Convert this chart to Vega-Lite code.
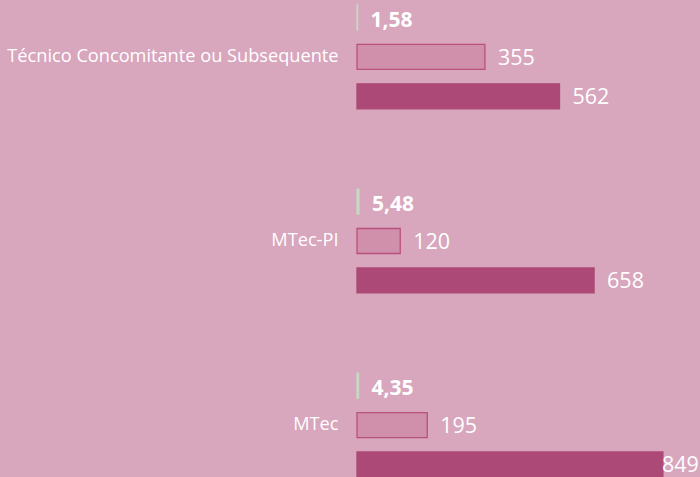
{
  "$schema": "https://vega.github.io/schema/vega-lite/v6.json",
  "width": 343,
  "height": 477,
  "autosize": {"type": "none"},
  "padding": {"left": 357, "top": 0, "right": 0, "bottom": 0},
  "background": "#d8a6bd",
  "config": {"view": {"stroke": null}, "font": "Open Sans"},
  "data": {
    "values": [
      {"category": "Técnico Concomitante ou Subsequente", "series": "Candidatos por vaga", "value": 1.58, "label": "1,58"},
      {"category": "Técnico Concomitante ou Subsequente", "series": "Vagas", "value": 355, "label": "355"},
      {"category": "Técnico Concomitante ou Subsequente", "series": "Inscritos", "value": 562, "label": "562"},
      {"category": "MTec-PI", "series": "Candidatos por vaga", "value": 5.48, "label": "5,48"},
      {"category": "MTec-PI", "series": "Vagas", "value": 120, "label": "120"},
      {"category": "MTec-PI", "series": "Inscritos", "value": 658, "label": "658"},
      {"category": "MTec", "series": "Candidatos por vaga", "value": 4.35, "label": "4,35"},
      {"category": "MTec", "series": "Vagas", "value": 195, "label": "195"},
      {"category": "MTec", "series": "Inscritos", "value": 849, "label": "849"}
    ]
  },
  "encoding": {
    "y": {
      "field": "category",
      "type": "nominal",
      "sort": ["Técnico Concomitante ou Subsequente", "MTec-PI", "MTec"],
      "scale": {"paddingInner": 0.436, "paddingOuter": 0.0136, "align": 1},
      "axis": {
        "title": null,
        "domain": false,
        "ticks": false,
        "labelColor": "#ffffff",
        "labelFontSize": 18.2,
        "labelFont": "Open Sans",
        "labelPadding": 19,
        "labelLimit": 400
      }
    },
    "yOffset": {
      "field": "series",
      "type": "nominal",
      "sort": ["Candidatos por vaga", "Vagas", "Inscritos"],
      "scale": {"paddingInner": 0.365, "paddingOuter": 0}
    },
    "x": {
      "field": "value",
      "type": "quantitative",
      "scale": {"domain": [0, 952], "nice": false},
      "axis": null
    }
  },
  "layer": [
    {
      "mark": {"type": "bar", "strokeWidth": 1.3},
      "encoding": {
        "fill": {
          "field": "series",
          "type": "nominal",
          "scale": {"domain": ["Candidatos por vaga", "Vagas", "Inscritos"], "range": ["#c6d9c2", "#d08fab", "#ad4976"]},
          "legend": null
        },
        "stroke": {
          "field": "series",
          "type": "nominal",
          "scale": {"domain": ["Candidatos por vaga", "Vagas", "Inscritos"], "range": ["#c6d9c2", "#b9517f", "#ad4976"]},
          "legend": null
        }
      }
    },
    {
      "mark": {
        "type": "text",
        "align": "left",
        "baseline": "middle",
        "color": "#ffffff",
        "font": "Open Sans",
        "dx": {"expr": "datum.value > 800 ? -1 : 13"},
        "dy": {"expr": "datum.series == 'Candidatos por vaga' ? 3 : 2"},
        "fontSize": {"expr": "datum.series == 'Candidatos por vaga' ? 21 : 21.5"},
        "fontWeight": {"expr": "datum.series == 'Candidatos por vaga' ? 'bold' : 'normal'"}
      },
      "encoding": {
        "text": {"field": "label", "type": "nominal"}
      }
    }
  ]
}
